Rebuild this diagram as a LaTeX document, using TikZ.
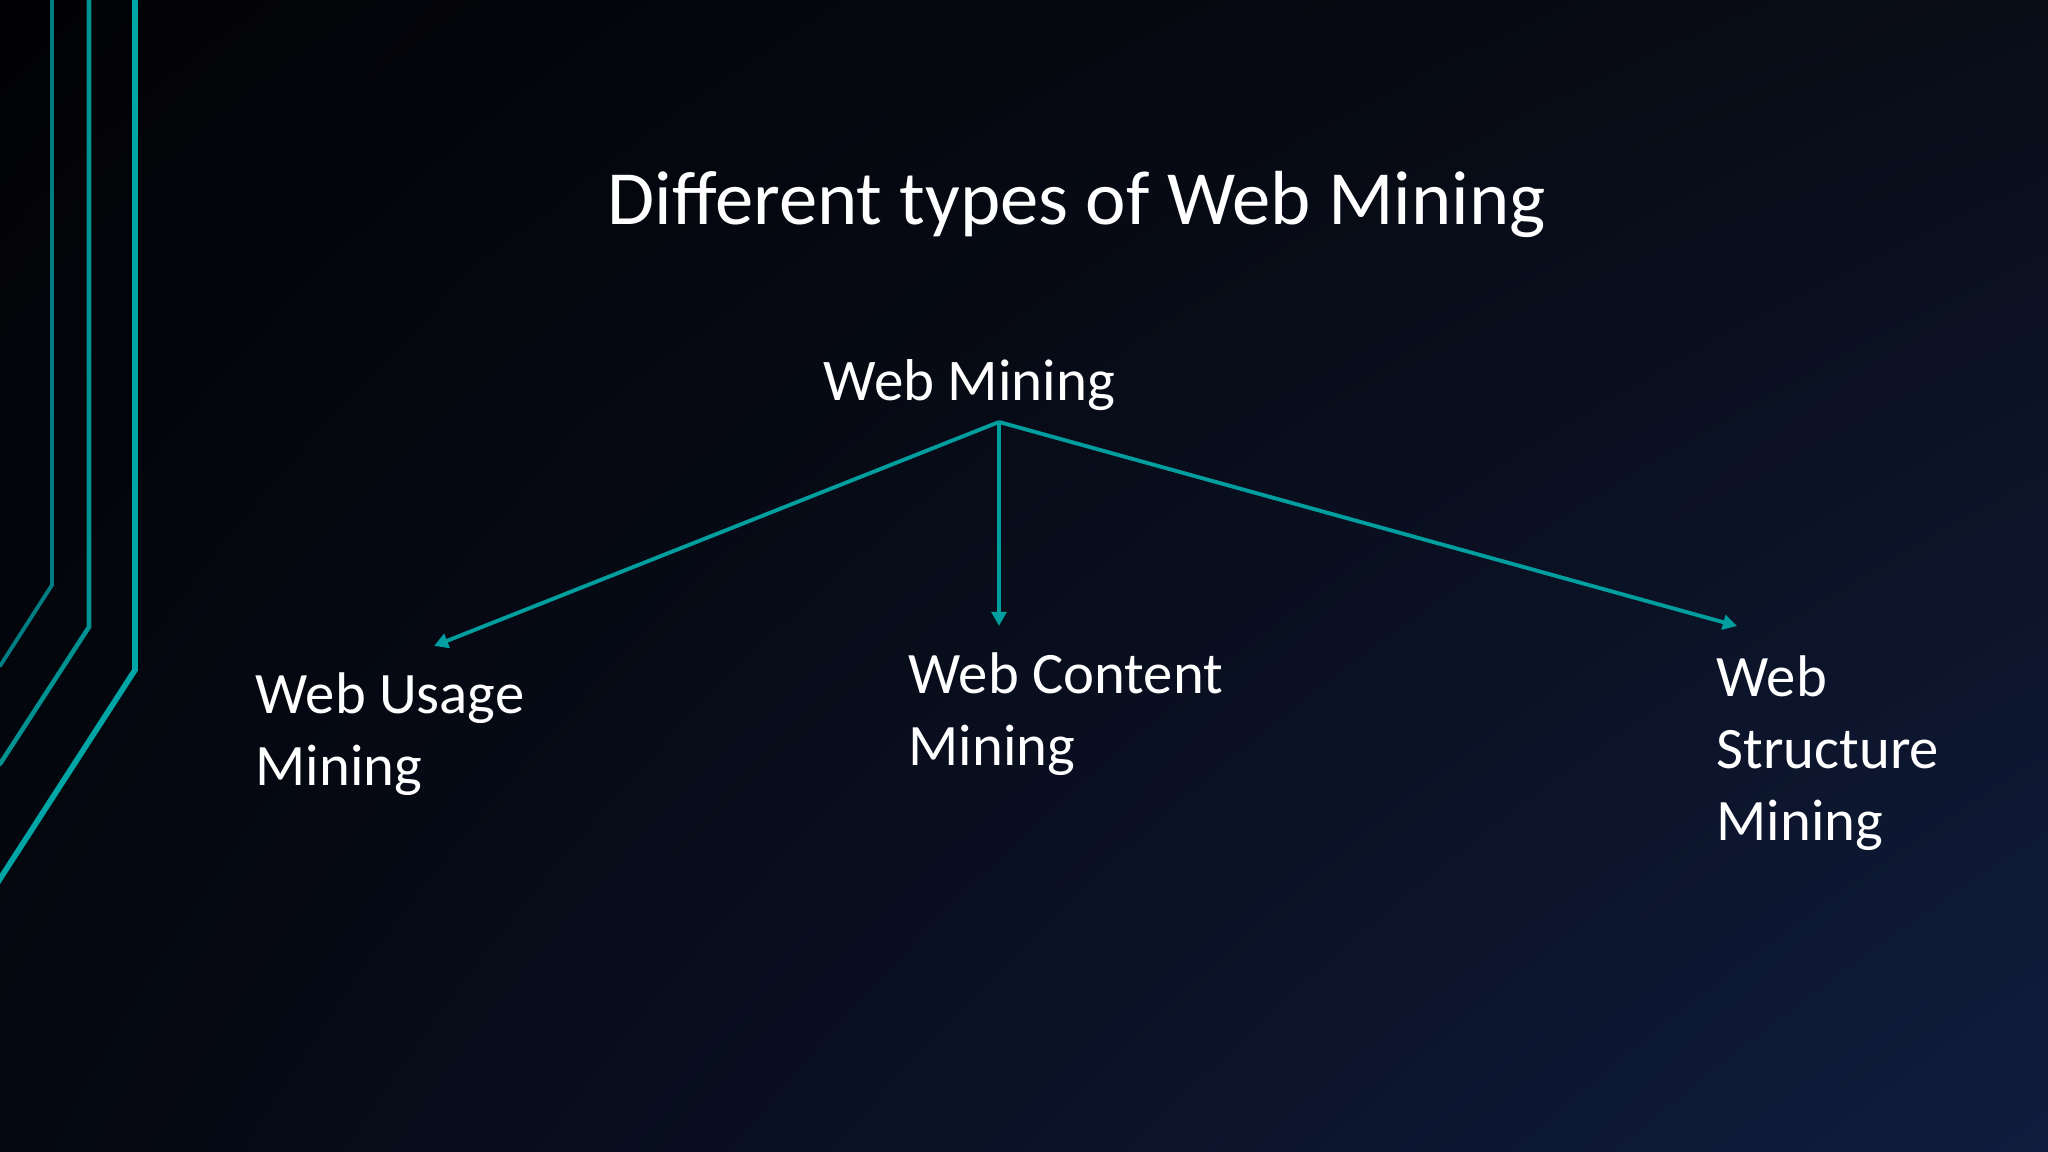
\documentclass[tikz,border=0pt]{standalone}
\usepackage{fontspec}
\setmainfont{Carlito}
\usetikzlibrary{positioning,arrows.meta,shadings}
\definecolor{slidetl}{RGB}{2,2,5}
\definecolor{slidetr}{RGB}{9,13,24}
\definecolor{slidebl}{RGB}{5,8,17}
\definecolor{slidebr}{RGB}{16,29,62}
\definecolor{tealline}{RGB}{0,165,165}
\definecolor{tealdark}{RGB}{0,125,130}
\definecolor{tealarrow}{RGB}{0,158,158}

\begin{document}
\begin{tikzpicture}[
				x=0.01cm, y=-0.01cm,
				deco/.style={line cap=round, line join=miter},
				branch/.style={-{Triangle[length=4pt,width=4.2pt]}, tealarrow, line width=1.1pt},
				title/.style={text=white, inner sep=0pt, anchor=base west, font=\fontsize{21.8}{26}\selectfont},
				root/.style={text=white, inner sep=0pt, anchor=base west, font=\fontsize{16.8}{20}\selectfont},
				leaf/.style={text=white, inner sep=0pt, anchor=base west, align=left, font=\fontsize{16.7}{20.4}\selectfont}
				]
				% background
				\shade[upper left=slidetl, upper right=slidetr, lower left=slidebl, lower right=slidebr] (0,0) rectangle (2048,1152);
				\useasboundingbox (0,0) rectangle (2048,1152);
				
				% side lines
				\draw[deco, tealdark, line width=1.1pt] (52,-5) -- (52,585) -- (0,666);
				\draw[deco, tealline!88!black, line width=1.3pt] (89,-5) -- (89,627) -- (0,764);
				\draw[deco, tealline, line width=1.6pt] (135,-5) -- (135,670) -- (-2,882);
				
				% texts (base = last line)
				\node[title] (heading) at (607,225) {Different types of Web Mining};
				\node[root] (web) at (823,401) {Web Mining};
				\node[leaf] (usage) at (255,785) {Web Usage\\Mining};
				\node[leaf] (content) at (908,765) {Web Content\\Mining};
				\node[leaf] (structure) at (1716,840) {Web\\Structure\\Mining};
				
				% tree
				\coordinate (apex) at (999,422);
				\coordinate (usagetip) at (434,646);
				\coordinate (contenttip) at (999,626);
				\coordinate (structuretip) at (1737,626);
				\draw[branch] (apex) -- (usagetip);
				\draw[branch] (apex) -- (contenttip);
				\draw[branch] (apex) -- (structuretip);
			\end{tikzpicture}
\end{document}
